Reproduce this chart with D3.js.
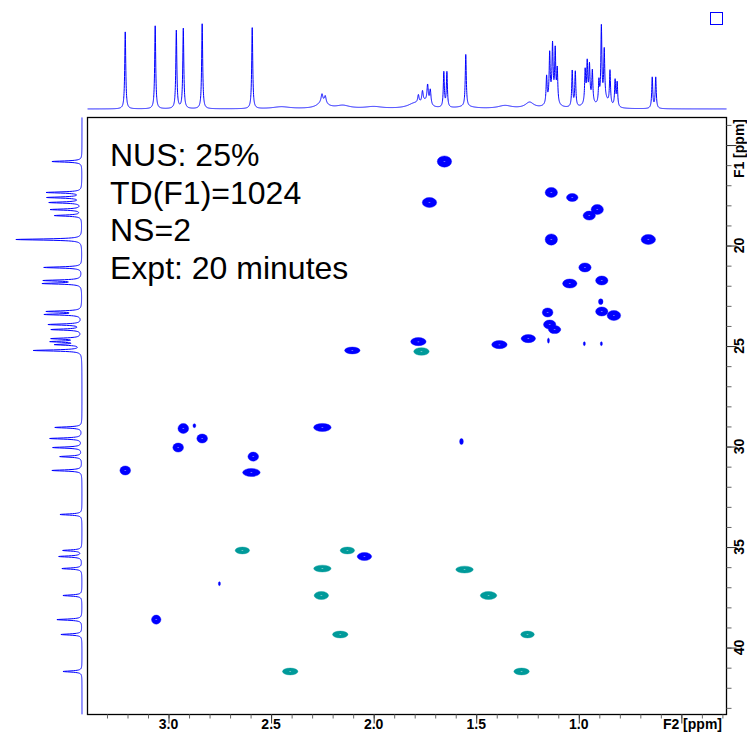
<!DOCTYPE html>
<html>
<head>
<meta charset="utf-8">
<title>HSQC | NUS 25%</title>
<style>
  body { margin:0; background:#fff; }
  svg { display:block; font-family: 'Liberation Sans', Arial, Helvetica, sans-serif; }
  .frame { fill:none; stroke:#000; stroke-width:1.3; }
  .tick line { stroke:#333; }
  .minor .tick line { stroke:#666; }
  .lbl { font-size:14px; font-weight:700; fill:#000; }
  .note { font-size:32px; fill:#000; }
  .proj { fill:none; stroke:#0000ff; stroke-width:1; }
</style>
</head>
<body>
<div id="chart"></div>
<script src="https://cdn.jsdelivr.net/npm/d3@7/dist/d3.min.js"></script>
<script>

// ---- data ----
// 2D cross peaks: [F2 ppm, F1 ppm, F2 width ppm, F1 width ppm]
var bluePeaks = [
  [1.655, 15.82, 0.070, 0.56], [1.728, 17.86, 0.070, 0.50], [1.134, 17.36, 0.060, 0.50],
  [1.032, 17.61, 0.056, 0.40], [0.910, 18.21, 0.060, 0.50], [0.949, 18.51, 0.060, 0.45],
  [1.134, 19.70, 0.060, 0.56], [0.661, 19.70, 0.070, 0.50], [0.970, 21.09, 0.060, 0.45],
  [1.044, 21.89, 0.070, 0.45], [0.888, 21.74, 0.060, 0.45], [0.893, 22.79, 0.022, 0.28],
  [1.152, 23.33, 0.052, 0.45], [0.888, 23.28, 0.060, 0.45], [0.829, 23.48, 0.066, 0.50],
  [1.142, 23.93, 0.060, 0.45], [1.118, 24.18, 0.060, 0.40], [1.782, 24.78, 0.075, 0.40],
  [1.387, 24.93, 0.075, 0.40], [1.246, 24.63, 0.070, 0.40], [1.148, 24.73, 0.010, 0.25],
  [0.973, 24.88, 0.010, 0.20], [0.890, 24.88, 0.010, 0.20], [2.104, 25.22, 0.075, 0.34],
  [1.572, 29.75, 0.018, 0.30], [2.928, 29.10, 0.052, 0.50], [2.874, 28.96, 0.014, 0.20],
  [2.836, 29.60, 0.052, 0.45], [2.953, 30.05, 0.052, 0.45], [2.250, 29.05, 0.085, 0.40],
  [2.587, 30.50, 0.052, 0.45], [2.596, 31.29, 0.085, 0.40], [3.211, 31.19, 0.052, 0.45],
  [2.045, 35.47, 0.070, 0.40], [2.752, 36.82, 0.010, 0.20], [3.060, 38.61, 0.046, 0.45]
];
var tealPeaks = [
  [1.767, 25.27, 0.075, 0.38], [2.640, 35.17, 0.070, 0.34], [2.128, 35.17, 0.070, 0.34],
  [2.250, 36.07, 0.085, 0.34], [2.255, 37.41, 0.070, 0.40], [2.163, 39.35, 0.075, 0.34],
  [2.407, 41.19, 0.075, 0.34], [1.557, 36.12, 0.085, 0.34], [1.440, 37.41, 0.080, 0.40],
  [1.250, 39.35, 0.066, 0.34], [1.279, 41.19, 0.075, 0.34]
];

// 1H projection (top): position ppm, height, half width ppm
var topPpm    = [3.211, 3.065, 2.962, 2.928, 2.836, 2.592, 1.658, 1.643, 1.551,
                 1.157, 1.142, 1.128, 1.115, 1.105, 1.032, 1.017, 0.969, 0.959, 0.948, 0.934,
                 0.902, 0.890, 0.876, 0.848, 0.823, 0.813, 0.642, 0.625,
                 1.782, 1.762, 1.737, 1.724, 2.252, 2.236,
                 1.13, 0.95, 0.87, 2.25, 2.15, 1.80, 1.75, 1.24, 1.36, 2.00, 2.45, 1.55];
var topHeight = [77, 83, 78, 80, 85, 81, 35, 35, 52,
                 27, 46, 52, 50, 33, 36, 35, 32, 37, 33, 31,
                 22, 76, 50, 34, 26, 24, 31, 31,
                 8, 11, 18, 15, 8, 7,
                 10, 8, 7, 6, 3, 5, 5, 6, 3, 2, 2, 2];
var topWidth  = [0.003, 0.003, 0.003, 0.003, 0.003, 0.003, 0.003, 0.003, 0.003,
                 0.003, 0.003, 0.003, 0.003, 0.003, 0.003, 0.003, 0.003, 0.003, 0.003, 0.003,
                 0.003, 0.003, 0.003, 0.003, 0.003, 0.003, 0.003, 0.003,
                 0.004, 0.004, 0.004, 0.004, 0.005, 0.005,
                 0.02, 0.02, 0.02, 0.03, 0.04, 0.04, 0.02, 0.025, 0.04, 0.05, 0.05, 0.05];

// 13C projection (left): position ppm, height
var leftPpm    = [15.82, 17.36, 17.61, 17.86, 18.21, 18.51, 19.70, 21.09, 21.74, 21.89,
                  23.28, 23.43, 23.93, 24.18, 24.63, 24.78, 24.93, 25.22, 29.05, 29.60,
                  30.05, 30.50, 31.19, 33.38, 35.17, 35.47, 36.07, 37.41, 38.61, 39.35, 41.19];
var leftHeight = [30, 35, 34, 32, 31, 27, 66, 38, 37, 38,
                  34, 36, 33, 30, 29, 29, 25, 48, 27, 32,
                  29, 22, 30, 22, 19, 23, 20, 19, 25, 21, 19];

var f2Labels = [3.0, 2.5, 2.0, 1.5, 1.0];
var f1Labels = [20, 25, 30, 35, 40];
var noteLines = ["NUS: 25%", "TD(F1)=1024", "NS=2", "Expt: 20 minutes"];

// ---- layout ----
var width = 747, height = 745;
var box = {left: 87.5, right: 726.5, top: 117.5, bottom: 714.5};

var x = d3.scaleLinear().domain([3.395, 0.28]).range([box.left, box.right]);
var y = d3.scaleLinear().domain([13.63, 43.33]).range([box.top, box.bottom]);
var yTop = d3.scaleLinear().domain([0, 88]).range([109, 21]);
var xLeft = d3.scaleLinear().domain([0, 66]).range([82, 16]);

var svg = d3.select("#chart").append("svg")
    .attr("width", width)
    .attr("height", height);

svg.append("clipPath").attr("id", "clip2d")
  .append("rect")
    .attr("x", box.left).attr("y", box.top)
    .attr("width", box.right - box.left).attr("height", box.bottom - box.top);

// cross peaks
function drawPeaks(data, color) {
    var g = svg.append("g").attr("clip-path", "url(#clip2d)");
    var rx = function(d) { return Math.abs(x(0) - x(d[2])) / 2; };
    var ry = function(d) { return Math.abs(y(0) - y(d[3])) / 2; };
    g.selectAll("ellipse.pk")
        .data(data)
        .enter().append("ellipse")
        .attr("class", "pk")
        .attr("cx", function(d) { return x(d[0]); })
        .attr("cy", function(d) { return y(d[1]); })
        .attr("rx", rx)
        .attr("ry", ry)
        .attr("fill", color)
        .attr("stroke", color)
        .attr("stroke-opacity", 0.4)
        .attr("stroke-width", 1);
    // open innermost contour
    g.selectAll("ellipse.core")
        .data(data.filter(function(d) { return d[2] > 0.04; }))
        .enter().append("ellipse")
        .attr("class", "core")
        .attr("cx", function(d) { return x(d[0]); })
        .attr("cy", function(d) { return y(d[1]); })
        .attr("rx", 1)
        .attr("ry", 0.5)
        .attr("fill", "#fff")
        .attr("opacity", 0.45);
}
drawPeaks(bluePeaks, "#0000ff");
drawPeaks(tealPeaks, "#009a9a");

// top projection
var topGrid = d3.range(x.domain()[1], x.domain()[0], 0.0005).concat(topPpm).sort(d3.ascending);
var topLine = topGrid.map(function(p) {
    return [p, d3.sum(topPpm, function(c, i) {
        var u = (p - c) / topWidth[i];
        return topHeight[i] / (1 + u * u);
    })];
});
svg.append("path")
    .attr("class", "proj")
    .attr("d", d3.line()
        .x(function(d) { return x(d[0]); })
        .y(function(d) { return yTop(d[1]); })(topLine));

// left projection
var leftGrid = d3.range(y.domain()[0], y.domain()[1], 0.01).concat(leftPpm).sort(d3.ascending);
var leftLine = leftGrid.map(function(p) {
    return [p, d3.sum(leftPpm, function(c, i) {
        var u = (p - c) / 0.035;
        return leftHeight[i] / (1 + u * u);
    })];
});
svg.append("path")
    .attr("class", "proj")
    .attr("d", d3.line()
        .x(function(d) { return xLeft(d[1]); })
        .y(function(d) { return y(d[0]); })(leftLine));

// frame
svg.append("rect")
    .attr("class", "frame")
    .attr("x", box.left).attr("y", box.top)
    .attr("width", box.right - box.left).attr("height", box.bottom - box.top);

// bottom axis (F2)
var f2Minor = d3.range(33, 2, -1).map(function(v) { return v / 10; });
var f2Major = d3.range(30, 4, -5).map(function(v) { return v / 10; });
svg.append("g").attr("class", "minor")
    .attr("transform", "translate(0," + box.bottom + ")")
    .call(d3.axisBottom(x).tickValues(f2Minor).tickSize(4).tickFormat(""))
    .select(".domain").remove();
svg.append("g")
    .attr("transform", "translate(0," + box.bottom + ")")
    .call(d3.axisBottom(x).tickValues(f2Major).tickSize(9).tickFormat(""))
    .select(".domain").remove();
svg.append("g").selectAll("text")
    .data(f2Labels)
    .enter().append("text")
    .attr("class", "lbl")
    .attr("x", function(d) { return x(d); })
    .attr("y", box.bottom + 14.5)
    .attr("text-anchor", "middle")
    .text(function(d) { return d.toFixed(1); });
svg.append("text")
    .attr("class", "lbl")
    .attr("x", 722)
    .attr("y", box.bottom + 14.5)
    .attr("text-anchor", "end")
    .text("F2 [ppm]");

// right axis (F1)
var f1Minor = d3.range(14, 44);
var f1Major = d3.range(15, 44, 5);
svg.append("g").attr("class", "minor")
    .attr("transform", "translate(" + box.right + ",0)")
    .call(d3.axisRight(y).tickValues(f1Minor).tickSize(5).tickFormat(""))
    .select(".domain").remove();
svg.append("g")
    .attr("transform", "translate(" + box.right + ",0)")
    .call(d3.axisRight(y).tickValues(f1Major).tickSize(10).tickFormat(""))
    .select(".domain").remove();
svg.append("g").selectAll("text")
    .data(f1Labels)
    .enter().append("text")
    .attr("class", "lbl")
    .attr("transform", function(d) { return "translate(743.5," + y(d) + ") rotate(-90)"; })
    .attr("text-anchor", "middle")
    .text(function(d) { return d; });
svg.append("text")
    .attr("class", "lbl")
    .attr("transform", "translate(743.5," + (box.top + 1.5) + ") rotate(-90)")
    .attr("text-anchor", "end")
    .text("F1 [ppm]");

// acquisition notes
svg.append("g").selectAll("text")
    .data(noteLines)
    .enter().append("text")
    .attr("class", "note")
    .attr("x", 110)
    .attr("y", function(d, i) { return 166 + i * 37.5; })
    .text(function(d) { return d; });

// little box top right
svg.append("rect")
    .attr("x", 710.5).attr("y", 12.5)
    .attr("width", 12).attr("height", 12)
    .attr("fill", "none")
    .attr("stroke", "#0000ff");

</script>
</body>
</html>
